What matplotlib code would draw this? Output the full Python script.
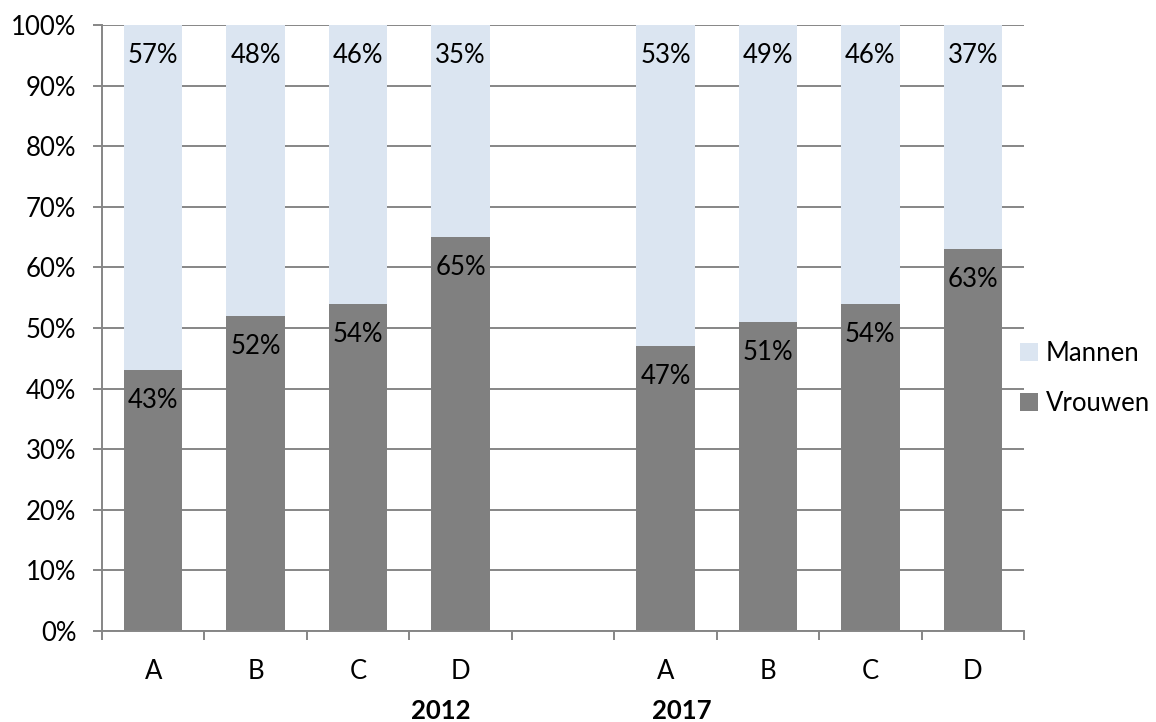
import matplotlib
matplotlib.use('Agg')
import matplotlib.pyplot as plt
import numpy as np

# ── data ──────────────────────────────────────────────────────────────
categories = ['A', 'B', 'C', 'D', '', 'A', 'B', 'C', 'D']
vrouwen    = [43, 52, 54, 65, np.nan, 47, 51, 54, 63]
mannen     = [57, 48, 46, 35, np.nan, 53, 49, 46, 37]
years      = ['2012', '2017']
year_pos   = [2.81, 5.16]          # where the year labels sit on the category axis

# ── style ─────────────────────────────────────────────────────────────
plt.rcParams['font.family'] = ['Lato', 'DejaVu Sans']
FS          = 18.5
c_mannen    = '#DBE5F1'
c_vrouwen   = '#808080'
c_grid      = '#868686'

fig = plt.figure(figsize=(11.56, 7.22), dpi=100)
ax  = fig.add_axes([102 / 1156, 1 - 631 / 722, (1024 - 102) / 1156, (631 - 25) / 722])

x  = np.arange(len(categories))
v  = np.array(vrouwen, dtype=float)
m  = np.array(mannen, dtype=float)
w  = 0.57

b_v = ax.bar(x, np.nan_to_num(v), w, color=c_vrouwen, label='Vrouwen', zorder=2)
b_m = ax.bar(x, np.nan_to_num(m), w, bottom=np.nan_to_num(v), color=c_mannen,
             label='Mannen', zorder=2)

# data labels, "inside end"
for xi, vi, mi in zip(x, v, m):
    if np.isnan(vi):
        continue
    ax.annotate(f'{vi:.0f}%', (xi, vi), xytext=(0, -22), textcoords='offset points',
                ha='center', va='center', fontsize=FS, color='black', zorder=3)
    ax.annotate(f'{mi:.0f}%', (xi, vi + mi), xytext=(0, -22), textcoords='offset points',
                ha='center', va='center', fontsize=FS, color='black', zorder=3)

# axes
ax.set_xlim(-0.5, len(categories) - 0.5)
ax.set_ylim(0, 100)
ax.set_yticks(np.arange(0, 101, 10))
ax.set_yticklabels([f'{t}%' for t in range(0, 101, 10)], fontsize=FS)
ax.yaxis.grid(True, color=c_grid, lw=1.4, zorder=1)
ax.set_axisbelow(True)

ax.set_xticks(np.arange(-0.5, len(categories), 1.0))
ax.set_xticklabels([])
ax.set_xticks(x, minor=True)
ax.set_xticklabels(categories, minor=True, fontsize=FS)
ax.tick_params(axis='x', which='major', length=6.5, width=1.4, color=c_grid)
ax.tick_params(axis='x', which='minor', length=0, pad=20)
ax.tick_params(axis='y', length=6.5, width=1.4, color=c_grid, pad=12)

for side in ['top', 'right']:
    ax.spines[side].set_visible(False)
for side in ['left', 'bottom']:
    ax.spines[side].set_color(c_grid)
    ax.spines[side].set_linewidth(1.4)

# year labels under the categories
for yr, xp in zip(years, year_pos):
    ax.text(xp, -0.132, yr, transform=ax.get_xaxis_transform(),
            ha='center', va='center', fontsize=FS, fontweight='bold')

# legend at the right
fig.legend([b_m, b_v], ['Mannen', 'Vrouwen'], loc='center left',
           bbox_to_anchor=(1020 / 1156, 1 - 378.5 / 722), frameon=False,
           fontsize=FS, borderpad=0, borderaxespad=0, handlelength=0.7,
           handleheight=0.7, handletextpad=0.3, labelspacing=0.95)

fig.savefig('out.png', dpi=100)
